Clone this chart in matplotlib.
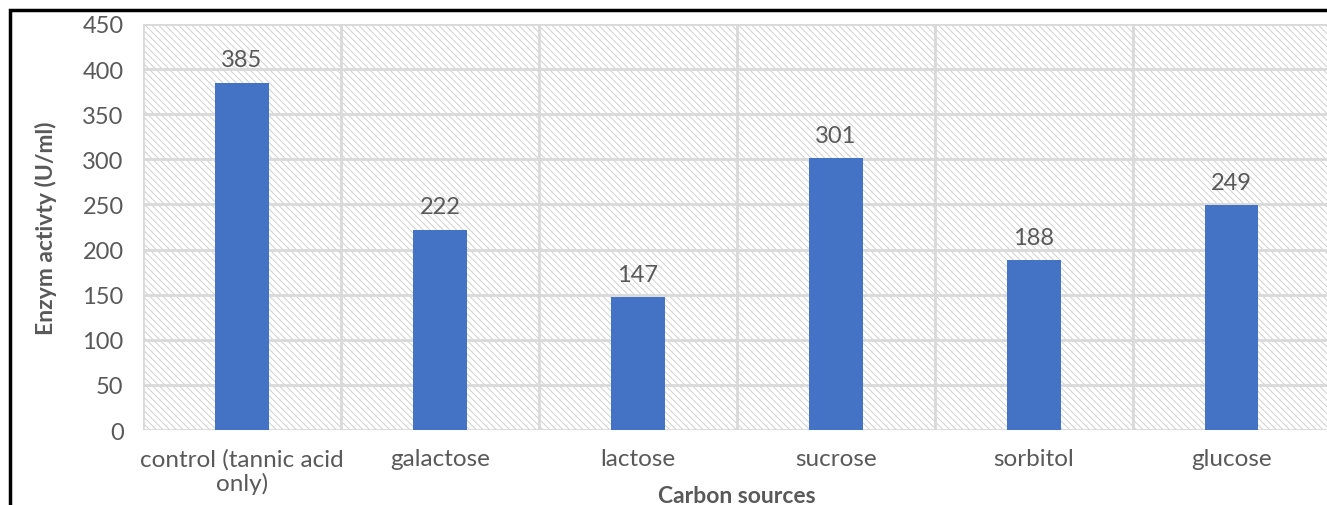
import matplotlib.pyplot as plt
from matplotlib.patches import Rectangle

sources = ["control (tannic acid\nonly)", "galactose", "lactose", "sucrose", "sorbitol", "glucose"]
activity = [385, 222, 147, 301, 188, 249]
yticks = [0, 50, 100, 150, 200, 250, 300, 350, 400, 450]

txt = "#595959"
grid = "#d9d9d9"
plt.rcParams['font.family'] = ['Lato', 'DejaVu Sans']
plt.rcParams['hatch.linewidth'] = 0.7

fig = plt.figure(figsize=(13.27, 5.06), dpi=100)
ax = fig.add_axes([0.1078, 0.148, 0.895, 0.8026])

# hatched plot background
ax.add_patch(Rectangle((0, 0), 1, 1, transform=ax.transAxes, facecolor="white",
                       edgecolor="#d0d0d0", hatch="\\\\\\\\\\", lw=0, zorder=0))

x = list(range(len(sources)))
ax.bar(x, activity, width=0.27, color="#4472c4", zorder=3)
for xi, v in zip(x, activity):
    ax.text(xi, v + 14, str(v), ha="center", va="bottom", fontsize=17, color=txt, zorder=4)

ax.set_xlim(-0.5, len(sources) - 0.5)
ax.set_ylim(0, 450)
ax.set_yticks(yticks)
ax.set_xticks(x)
ax.set_xticklabels(sources, fontsize=17.5, color=txt, linespacing=1.1)
ax.tick_params(axis="y", labelsize=17, labelcolor=txt, length=0, pad=14)
ax.tick_params(axis="x", length=0, pad=13)

# gridlines between categories and at every 50
for b in [i - 0.5 for i in range(len(sources) + 1)]:
    ax.axvline(b, color=grid, lw=2, zorder=1)
for t in yticks:
    ax.axhline(t, color=grid, lw=2, zorder=1)
for s in ax.spines.values():
    s.set_visible(False)

ax.set_ylabel("Enzym activty (U/ml)", fontsize=16.5, fontweight="bold", color=txt, labelpad=18)
fig.text(737 / 1327, 1 - 497 / 506, "Carbon sources", fontsize=16.5, fontweight="bold",
         color=txt, ha="center", va="center")

# outer chart frame
fig.patches.append(Rectangle((10 / 1327, -0.1), 1.2, 1 - 11 / 506 + 0.1, transform=fig.transFigure,
                             fill=False, edgecolor="black", lw=2.5, clip_on=False))

fig.savefig("out.png", dpi=100)
